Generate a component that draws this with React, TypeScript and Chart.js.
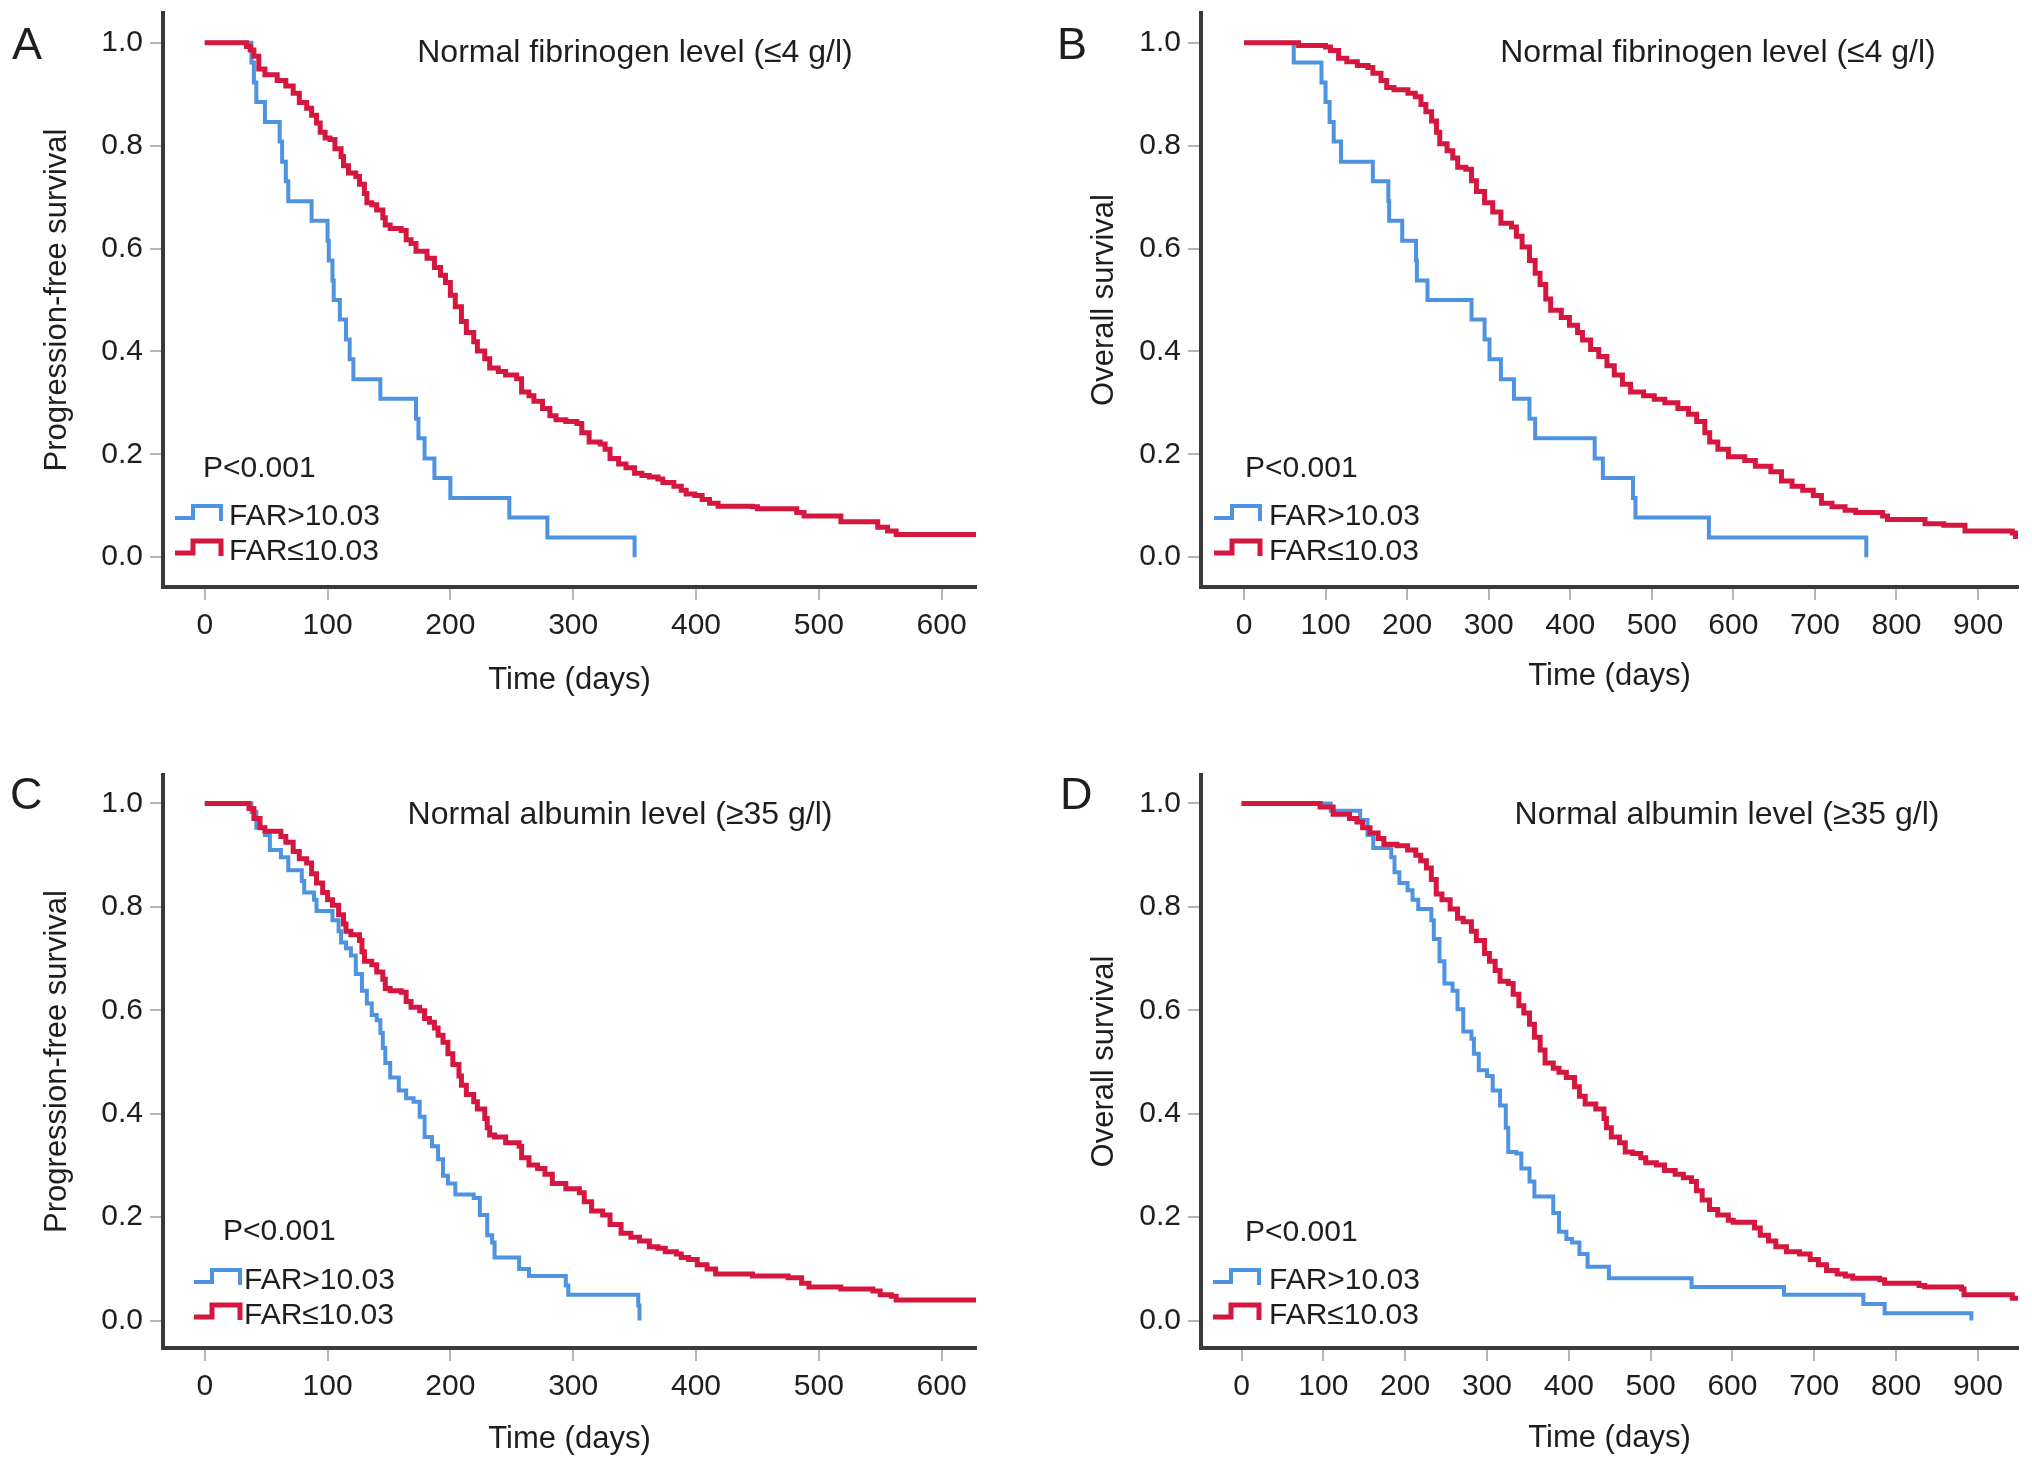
import React, { useEffect, useRef } from 'react';
import { Chart, registerables } from 'chart.js';

Chart.register(...registerables);

const FONT = "'Liberation Sans', Arial, Helvetica, sans-serif";
const BLUE = '#4d93e2';
const RED = '#d5173f';
const TEXT = '#1e1e1e';

// ---------- tick labels / texts ----------
const X_TICKS_PFS = [0, 100, 200, 300, 400, 500, 600];
const X_TICKS_OS = [0, 100, 200, 300, 400, 500, 600, 700, 800, 900];
const Y_TICKS = [0, 0.2, 0.4, 0.6, 0.8, 1.0];
const LEGEND_LABELS = ['FAR>10.03', 'FAR\u226410.03'];
const P_TEXT = 'P<0.001';
const X_TITLE = 'Time (days)';

// ---------- Panel A: PFS, normal fibrinogen ----------
const A_BLUE_T = [0, 38, 40, 42, 49, 61, 63, 66, 68, 87, 100, 101, 104, 105, 110, 115, 118, 121, 143, 172, 174, 179, 187, 200, 248, 279, 350];
const A_BLUE_S = [1, 0.962, 0.923, 0.885, 0.846, 0.808, 0.769, 0.731, 0.692, 0.654, 0.615, 0.577, 0.538, 0.5, 0.462, 0.423, 0.385, 0.346, 0.308, 0.269, 0.231, 0.192, 0.154, 0.115, 0.077, 0.038, 0];
const A_RED_T = [0, 34, 37, 40, 44, 49, 59, 66, 72, 77, 83, 87, 91, 94, 98, 102, 106, 111, 113, 117, 123, 126, 130, 132, 136, 140, 145, 147, 151, 160, 164, 168, 172, 181, 187, 192, 196, 200, 204, 209, 213, 219, 222, 228, 232, 239, 245, 254, 258, 264, 268, 275, 281, 286, 294, 303, 307, 313, 322, 326, 330, 337, 343, 350, 356, 362, 369, 373, 382, 388, 392, 399, 405, 411, 418, 446, 450, 482, 488, 518, 548, 556, 563, 628];
const A_RED_S = [1, 0.993, 0.986, 0.974, 0.949, 0.938, 0.927, 0.916, 0.902, 0.884, 0.873, 0.859, 0.844, 0.826, 0.815, 0.812, 0.794, 0.779, 0.761, 0.747, 0.74, 0.725, 0.707, 0.689, 0.685, 0.675, 0.66, 0.646, 0.639, 0.635, 0.617, 0.61, 0.595, 0.581, 0.563, 0.548, 0.534, 0.509, 0.487, 0.458, 0.437, 0.419, 0.401, 0.386, 0.368, 0.361, 0.354, 0.347, 0.321, 0.314, 0.303, 0.289, 0.275, 0.267, 0.264, 0.26, 0.242, 0.224, 0.22, 0.21, 0.192, 0.181, 0.174, 0.163, 0.159, 0.156, 0.152, 0.145, 0.138, 0.13, 0.123, 0.12, 0.112, 0.105, 0.099, 0.098, 0.094, 0.087, 0.08, 0.069, 0.058, 0.051, 0.044, 0.044];

// ---------- Panel B: OS, normal fibrinogen ----------
const B_BLUE_T = [0, 61, 95, 100, 105, 110, 119, 158, 177, 178, 194, 211, 212, 225, 279, 295, 301, 315, 331, 350, 357, 430, 440, 477, 480, 570, 763];
const B_BLUE_S = [1, 0.962, 0.923, 0.885, 0.846, 0.808, 0.769, 0.731, 0.692, 0.654, 0.615, 0.577, 0.538, 0.5, 0.462, 0.423, 0.385, 0.346, 0.308, 0.269, 0.231, 0.192, 0.154, 0.115, 0.077, 0.038, 0];
const B_RED_T = [0, 67, 100, 106, 116, 126, 139, 152, 158, 168, 175, 184, 201, 210, 217, 223, 230, 236, 240, 249, 256, 262, 272, 279, 285, 295, 305, 315, 328, 334, 341, 350, 357, 363, 370, 376, 389, 399, 409, 415, 425, 435, 445, 454, 464, 474, 490, 503, 516, 532, 545, 555, 565, 571, 581, 594, 614, 627, 646, 659, 672, 685, 698, 708, 721, 737, 750, 783, 789, 835, 858, 884, 942, 946, 950];
const B_RED_S = [1, 0.995, 0.992, 0.985, 0.97, 0.963, 0.956, 0.952, 0.941, 0.927, 0.913, 0.909, 0.902, 0.895, 0.88, 0.866, 0.848, 0.826, 0.804, 0.79, 0.776, 0.758, 0.754, 0.732, 0.711, 0.689, 0.671, 0.649, 0.642, 0.624, 0.603, 0.577, 0.552, 0.53, 0.502, 0.48, 0.466, 0.451, 0.437, 0.422, 0.404, 0.39, 0.372, 0.354, 0.336, 0.321, 0.314, 0.307, 0.3, 0.289, 0.278, 0.264, 0.242, 0.224, 0.21, 0.195, 0.188, 0.177, 0.166, 0.148, 0.138, 0.13, 0.12, 0.105, 0.098, 0.091, 0.087, 0.08, 0.073, 0.065, 0.062, 0.051, 0.047, 0.04, 0.04];

// ---------- Panel C: PFS, normal albumin ----------
const C_BLUE_T = [0, 38, 42, 49, 53, 62, 68, 79, 81, 89, 91, 104, 109, 111, 115, 119, 123, 128, 132, 136, 140, 143, 145, 147, 151, 158, 164, 170, 175, 179, 185, 190, 194, 198, 204, 219, 224, 230, 234, 236, 256, 264, 294, 296, 353, 354];
const C_BLUE_S = [1, 0.984, 0.953, 0.939, 0.91, 0.896, 0.871, 0.85, 0.828, 0.814, 0.792, 0.774, 0.753, 0.731, 0.72, 0.706, 0.67, 0.638, 0.613, 0.591, 0.581, 0.556, 0.527, 0.498, 0.47, 0.445, 0.43, 0.423, 0.394, 0.355, 0.337, 0.312, 0.28, 0.265, 0.244, 0.237, 0.204, 0.165, 0.151, 0.122, 0.1, 0.086, 0.068, 0.05, 0.029, 0];
const C_RED_T = [0, 36, 40, 45, 49, 62, 66, 72, 77, 83, 87, 91, 96, 100, 104, 109, 113, 115, 119, 126, 128, 130, 136, 140, 145, 147, 151, 160, 164, 168, 175, 179, 183, 187, 190, 194, 198, 202, 207, 209, 213, 219, 222, 228, 230, 232, 236, 245, 256, 258, 264, 271, 277, 283, 294, 305, 309, 315, 324, 330, 339, 347, 354, 362, 369, 375, 384, 388, 394, 401, 409, 416, 446, 475, 486, 492, 518, 544, 550, 559, 563, 628];
const C_RED_S = [1, 0.99, 0.971, 0.953, 0.946, 0.936, 0.925, 0.907, 0.893, 0.885, 0.864, 0.846, 0.828, 0.814, 0.803, 0.785, 0.767, 0.753, 0.746, 0.735, 0.713, 0.695, 0.688, 0.674, 0.66, 0.642, 0.638, 0.635, 0.617, 0.606, 0.599, 0.584, 0.577, 0.566, 0.552, 0.538, 0.516, 0.495, 0.473, 0.455, 0.437, 0.423, 0.409, 0.391, 0.373, 0.359, 0.355, 0.344, 0.337, 0.315, 0.301, 0.294, 0.283, 0.265, 0.255, 0.247, 0.23, 0.212, 0.204, 0.186, 0.169, 0.161, 0.154, 0.143, 0.14, 0.133, 0.129, 0.122, 0.118, 0.108, 0.1, 0.09, 0.086, 0.083, 0.072, 0.065, 0.061, 0.057, 0.05, 0.047, 0.04, 0.04];

// ---------- Panel D: OS, normal albumin ----------
const D_BLUE_T = [0, 109, 145, 154, 161, 183, 187, 193, 203, 209, 216, 232, 235, 242, 248, 258, 264, 271, 281, 284, 290, 300, 307, 316, 323, 326, 336, 342, 352, 358, 381, 388, 397, 404, 413, 423, 449, 550, 663, 760, 786, 892];
const D_BLUE_S = [1, 0.986, 0.968, 0.939, 0.914, 0.896, 0.867, 0.846, 0.832, 0.814, 0.796, 0.774, 0.738, 0.695, 0.652, 0.638, 0.602, 0.559, 0.545, 0.516, 0.484, 0.473, 0.445, 0.416, 0.373, 0.326, 0.323, 0.294, 0.269, 0.24, 0.208, 0.172, 0.158, 0.151, 0.129, 0.104, 0.082, 0.065, 0.05, 0.032, 0.014, 0];
const D_RED_T = [0, 96, 112, 132, 141, 148, 157, 167, 174, 190, 203, 213, 219, 226, 232, 238, 245, 255, 264, 271, 281, 287, 297, 303, 310, 316, 326, 332, 339, 345, 352, 358, 365, 371, 381, 388, 397, 407, 413, 420, 433, 443, 446, 452, 462, 469, 478, 488, 494, 507, 517, 530, 540, 550, 556, 563, 572, 582, 595, 601, 627, 634, 644, 653, 666, 682, 695, 705, 715, 728, 738, 747, 780, 786, 828, 835, 880, 883, 942, 950];
const D_RED_S = [1, 0.993, 0.979, 0.971, 0.964, 0.953, 0.943, 0.932, 0.921, 0.918, 0.91, 0.9, 0.889, 0.875, 0.853, 0.825, 0.814, 0.796, 0.778, 0.771, 0.753, 0.735, 0.71, 0.695, 0.677, 0.656, 0.652, 0.631, 0.609, 0.595, 0.573, 0.548, 0.523, 0.498, 0.488, 0.48, 0.47, 0.452, 0.434, 0.419, 0.409, 0.391, 0.373, 0.355, 0.344, 0.326, 0.323, 0.315, 0.305, 0.301, 0.29, 0.283, 0.276, 0.269, 0.251, 0.233, 0.215, 0.204, 0.194, 0.19, 0.179, 0.165, 0.154, 0.143, 0.133, 0.129, 0.118, 0.108, 0.097, 0.09, 0.086, 0.082, 0.079, 0.072, 0.068, 0.065, 0.061, 0.05, 0.043, 0.043];

const toPoints = (t: number[], s: number[]) => t.map((x, i) => ({ x, y: s[i] }));

type PanelCfg = {
  letter: string; letterLeft: number; letterTop: number;
  left: number; top: number; width: number; height: number;
  padTop: number; padRight: number; yAxisWidth: number; xAxisHeight: number;
  yTitlePad: number; xTitlePad: number;
  xMin: number; xMax: number; yMin: number; yMax: number; xTicks: number[];
  yTitle: string; title: string;
  titleDx: number; pDx: number; pDy: number; symDx: number; textDx: number; row1Dy: number; row2Dy: number;
  blueT: number[]; blueS: number[]; redT: number[]; redS: number[];
};

const PANELS: PanelCfg[] = [
  {
    letter: 'A', letterLeft: 12, letterTop: 21,
    left: 0, top: 0, width: 1000, height: 720,
    padTop: 13, padRight: 24, yAxisWidth: 163, xAxisHeight: 133, yTitlePad: 39, xTitlePad: 21,
    xMin: -34, xMax: 628, yMin: -0.058, yMax: 1.058, xTicks: X_TICKS_PFS,
    yTitle: 'Progression-free survival', title: 'Normal fibrinogen level (\u22644 g/l)',
    titleDx: 472, pDx: 40, pDy: -110, symDx: 12, textDx: 66, row1Dy: -62, row2Dy: -27,
    blueT: A_BLUE_T, blueS: A_BLUE_S, redT: A_RED_T, redS: A_RED_S,
  },
  {
    letter: 'B', letterLeft: 1057, letterTop: 21,
    left: 1016, top: 0, width: 1016, height: 720,
    padTop: 13, padRight: 14, yAxisWidth: 185, xAxisHeight: 133, yTitlePad: 70, xTitlePad: 25,
    xMin: -52.7, xMax: 949, yMin: -0.058, yMax: 1.058, xTicks: X_TICKS_OS,
    yTitle: 'Overall survival', title: 'Normal fibrinogen level (\u22644 g/l)',
    titleDx: 517, pDx: 44, pDy: -110, symDx: 13, textDx: 68, row1Dy: -62, row2Dy: -27,
    blueT: B_BLUE_T, blueS: B_BLUE_S, redT: B_RED_T, redS: B_RED_S,
  },
  {
    letter: 'C', letterLeft: 10, letterTop: 771,
    left: 0, top: 762, width: 1000, height: 706,
    padTop: 13, padRight: 24, yAxisWidth: 163, xAxisHeight: 120, yTitlePad: 39, xTitlePad: 10,
    xMin: -34, xMax: 628, yMin: -0.053, yMax: 1.055, xTicks: X_TICKS_PFS,
    yTitle: 'Progression-free survival', title: 'Normal albumin level (\u226535 g/l)',
    titleDx: 457, pDx: 60, pDy: -108, symDx: 31, textDx: 81, row1Dy: -59, row2Dy: -24,
    blueT: C_BLUE_T, blueS: C_BLUE_S, redT: C_RED_T, redS: C_RED_S,
  },
  {
    letter: 'D', letterLeft: 1060, letterTop: 771,
    left: 1016, top: 762, width: 1016, height: 706,
    padTop: 13, padRight: 14, yAxisWidth: 185, xAxisHeight: 120, yTitlePad: 70, xTitlePad: 11,
    xMin: -49.5, xMax: 949, yMin: -0.053, yMax: 1.055, xTicks: X_TICKS_OS,
    yTitle: 'Overall survival', title: 'Normal albumin level (\u226535 g/l)',
    titleDx: 526, pDx: 44, pDy: -107, symDx: 12, textDx: 68, row1Dy: -59, row2Dy: -24,
    blueT: D_BLUE_T, blueS: D_BLUE_S, redT: D_RED_T, redS: D_RED_S,
  },
];

const kmAnnot = {
  id: 'kmAnnot',
  afterDatasetsDraw(chart: any, _args: any, opts: any) {
    const { ctx, chartArea } = chart;
    const L = chartArea.left;
    const B = chartArea.bottom;
    const T = chartArea.top;
    ctx.save();
    ctx.fillStyle = TEXT;
    ctx.textBaseline = 'alphabetic';
    ctx.font = `32px ${FONT}`;
    ctx.textAlign = 'center';
    ctx.fillText(opts.title, L + opts.titleDx, T + 49);
    ctx.font = `30px ${FONT}`;
    ctx.textAlign = 'left';
    ctx.fillText(P_TEXT, L + opts.pDx, B + opts.pDy);
    const rows = [
      { label: LEGEND_LABELS[0], color: BLUE, w: 4, dy: opts.row1Dy },
      { label: LEGEND_LABELS[1], color: RED, w: 5, dy: opts.row2Dy },
    ];
    rows.forEach((r) => {
      ctx.fillStyle = TEXT;
      ctx.fillText(r.label, L + opts.textDx, B + r.dy);
      const x0 = L + opts.symDx;
      const base = B + r.dy;
      ctx.beginPath();
      ctx.moveTo(x0, base - 7);
      ctx.lineTo(x0 + 18, base - 7);
      ctx.lineTo(x0 + 18, base - 19);
      ctx.lineTo(x0 + 46, base - 19);
      ctx.lineTo(x0 + 46, base - 4);
      ctx.strokeStyle = r.color;
      ctx.lineWidth = r.w;
      ctx.lineJoin = 'miter';
      ctx.stroke();
    });
    ctx.restore();
  },
};

function Panel({ cfg }: { cfg: PanelCfg }) {
  const ref = useRef<HTMLCanvasElement>(null);
  useEffect(() => {
    const tickFont = { family: FONT, size: 30 };
    const chart = new Chart(ref.current as HTMLCanvasElement, {
      type: 'line',
      data: {
        datasets: [
          {
            label: LEGEND_LABELS[1],
            data: toPoints(cfg.redT, cfg.redS),
            borderColor: RED,
            borderWidth: 5,
            stepped: 'before',
            pointRadius: 0,
            fill: false,
          },
          {
            label: LEGEND_LABELS[0],
            data: toPoints(cfg.blueT, cfg.blueS),
            borderColor: BLUE,
            borderWidth: 4,
            stepped: 'before',
            pointRadius: 0,
            fill: false,
          },
        ],
      },
      options: {
        animation: false,
        responsive: false,
        devicePixelRatio: 1,
        layout: { padding: { top: cfg.padTop, right: cfg.padRight, left: 0, bottom: 0 } },
        plugins: {
          legend: { display: false },
          tooltip: { enabled: false },
          kmAnnot: {
            title: cfg.title, titleDx: cfg.titleDx, pDx: cfg.pDx, pDy: cfg.pDy,
            symDx: cfg.symDx, textDx: cfg.textDx, row1Dy: cfg.row1Dy, row2Dy: cfg.row2Dy,
          },
        } as any,
        scales: {
          x: {
            type: 'linear',
            min: cfg.xMin,
            max: cfg.xMax,
            afterBuildTicks: (s: any) => { s.ticks = cfg.xTicks.map((v) => ({ value: v })); },
            afterFit: (s: any) => { s.height = cfg.xAxisHeight; s.paddingLeft = 0; s.paddingRight = 0; },
            ticks: { font: tickFont, color: TEXT, padding: 8, maxRotation: 0, autoSkip: false, callback: (v: any) => String(v) },
            grid: { display: true, drawOnChartArea: false, drawTicks: true, tickLength: 13, color: '#b5b5b5', lineWidth: 2 },
            border: { display: true, color: '#3a3a3a', width: 4 },
            title: { display: true, text: X_TITLE, font: { family: FONT, size: 31 }, color: TEXT, padding: { top: 0, bottom: cfg.xTitlePad } },
          },
          y: {
            type: 'linear',
            min: cfg.yMin,
            max: cfg.yMax,
            afterBuildTicks: (s: any) => { s.ticks = Y_TICKS.map((v) => ({ value: v })); },
            afterFit: (s: any) => { s.width = cfg.yAxisWidth; s.paddingTop = 0; s.paddingBottom = 0; },
            ticks: { font: tickFont, color: TEXT, padding: 7, callback: (v: any) => Number(v).toFixed(1) },
            grid: { display: true, drawOnChartArea: false, drawTicks: true, tickLength: 13, color: '#b5b5b5', lineWidth: 2 },
            border: { display: true, color: '#3a3a3a', width: 4 },
            title: { display: true, text: cfg.yTitle, font: { family: FONT, size: 31 }, color: TEXT, padding: { top: cfg.yTitlePad, bottom: 0 } },
          },
        },
      },
      plugins: [kmAnnot],
    } as any);
    return () => chart.destroy();
  }, [cfg]);
  return (
    <canvas
      ref={ref}
      width={cfg.width}
      height={cfg.height}
      style={{ position: 'absolute', left: cfg.left, top: cfg.top, width: cfg.width, height: cfg.height }}
    />
  );
}

export default function App() {
  return (
    <div style={{ position: 'absolute', left: 0, top: 0, width: 2032, height: 1468, background: '#ffffff', overflow: 'hidden' }}>
      {PANELS.map((p) => (
        <React.Fragment key={p.letter}>
          <Panel cfg={p} />
          <div
            style={{
              position: 'absolute', left: p.letterLeft, top: p.letterTop,
              fontFamily: FONT, fontSize: 45, lineHeight: 1, color: TEXT,
            }}
          >
            {p.letter}
          </div>
        </React.Fragment>
      ))}
    </div>
  );
}
